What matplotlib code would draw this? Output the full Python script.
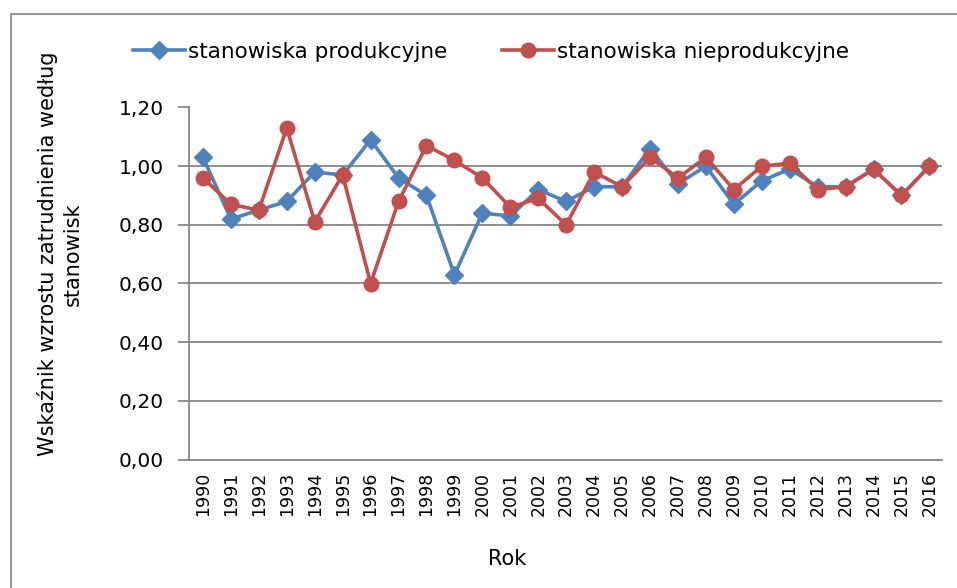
import matplotlib.pyplot as plt
from matplotlib.ticker import FuncFormatter, MultipleLocator
from matplotlib.patches import Rectangle

# data
years = list(range(1990, 2017))
produkcyjne = [1.03, 0.82, 0.85, 0.88, 0.98, 0.97, 1.09, 0.96, 0.90, 0.63,
               0.84, 0.83, 0.92, 0.88, 0.93, 0.93, 1.06, 0.94, 1.00, 0.87,
               0.95, 0.99, 0.93, 0.93, 0.99, 0.90, 1.00]
nieprodukcyjne = [0.96, 0.87, 0.85, 1.13, 0.81, 0.97, 0.60, 0.88, 1.07, 1.02,
                  0.96, 0.86, 0.89, 0.80, 0.98, 0.93, 1.03, 0.96, 1.03, 0.92,
                  1.00, 1.01, 0.92, 0.93, 0.99, 0.90, 1.00]

plt.rcParams['font.family'] = ['DejaVu Sans']

W, H = 957, 588
fig = plt.figure(figsize=(W / 100, H / 100), dpi=100)

# outer chart border (Excel style)
fig.patches.append(Rectangle((11 / W, -0.1), 1.2, (H - 14) / H + 0.1,
                             transform=fig.transFigure, fill=False,
                             edgecolor='#8c8c8c', linewidth=1.3))

ax = fig.add_axes([189 / W, (H - 459.5) / H, (942 - 189) / W, (459.5 - 107.5) / H])

ax.plot(years, produkcyjne, color='#4F81BD', marker='D', markersize=9.5,
        linewidth=2.6, label='stanowiska produkcyjne')
ax.plot(years, nieprodukcyjne, color='#C0504D', marker='o', markersize=10.5,
        linewidth=2.6, label='stanowiska nieprodukcyjne')

ax.set_xlim(1989.5, 2016.45)
ax.set_ylim(0, 1.2)
ax.yaxis.set_major_locator(MultipleLocator(0.2))
ax.yaxis.set_major_formatter(FuncFormatter(lambda v, p: f"{v:.2f}".replace('.', ',')))
ax.set_xticks(years)
ax.set_xticklabels([str(y) for y in years], rotation=90, fontsize=12.5)
ax.tick_params(axis='x', length=0, pad=9)
ax.tick_params(axis='y', length=8, width=1.3, color='#868686', labelsize=14.5, pad=10)

ax.grid(axis='y', color='#868686', linewidth=1.3)
ax.set_axisbelow(True)
for s in ['top', 'right']:
    ax.spines[s].set_visible(False)
for s in ['left', 'bottom']:
    ax.spines[s].set_color('#868686')
    ax.spines[s].set_linewidth(1.3)

fig.text(507 / W, 1 - 559 / H, 'Rok', fontsize=15, ha='center', va='center')
fig.text(60 / W, 1 - 254 / H, 'Wskaźnik wzrostu zatrudnienia według\nstanowisk',
         fontsize=15, rotation=90, ha='center', va='center',
         multialignment='center', linespacing=1.35)

fig.legend(loc='center left', bbox_to_anchor=(133 / W, (H - 52) / H), ncol=2,
           frameon=False, fontsize=15.5, handlelength=2.42, handletextpad=0.12,
           columnspacing=2.55, borderaxespad=0, borderpad=0)

fig.savefig('out.png', dpi=100)
